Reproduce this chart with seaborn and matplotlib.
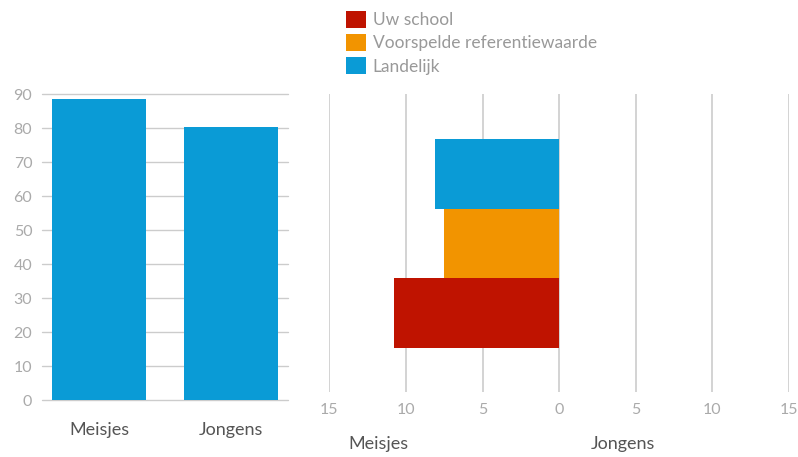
import matplotlib
matplotlib.use("Agg")
import matplotlib.pyplot as plt
import seaborn as sns
import pandas as pd
from matplotlib.patches import Patch

sns.set_theme(style="white")
plt.rcParams["font.family"] = ["Lato", "DejaVu Sans"]

# data
geslacht = ["Meisjes", "Jongens"]
percentage = [88.4, 80.2]

reeksen = ["Uw school", "Voorspelde referentiewaarde", "Landelijk"]
verschil_meisjes = [10.8, 7.5, 8.1]
kleuren = ["#bf1300", "#f29400", "#0a9bd6"]

blauw = "#0a9bd6"
grid_c = "#cccccc"
tick_c = "#aaaaaa"
label_c = "#555555"

W, H = 798, 457
fig = plt.figure(figsize=(W / 100, H / 100), dpi=100)

# --- links: staafdiagram ---
ax1 = fig.add_axes([42 / W, 1 - 400 / H, 246 / W, 306 / H])
df1 = pd.DataFrame({"g": geslacht, "p": percentage})
sns.barplot(data=df1, x="g", y="p", color=blauw, width=0.712, saturation=1,
            linewidth=0, ax=ax1, zorder=3)
ax1.set_xlim(-0.432, 1.432)
ax1.set_ylim(0, 90)
ax1.set_yticks(range(0, 91, 10))
ax1.yaxis.grid(True, color=grid_c, linewidth=1)
for gl in ax1.get_ygridlines():
    gl.set_clip_on(False)
ax1.set_xlabel("")
ax1.set_ylabel("")
for s in ax1.spines.values():
    s.set_visible(False)
ax1.tick_params(axis="y", length=0, pad=7, labelsize=11.5, labelcolor=tick_c)
ax1.tick_params(axis="x", length=0, pad=16, labelsize=13, labelcolor=label_c)

# --- rechts: verschil ---
ax2 = fig.add_axes([329.3 / W, 1 - 392 / H, 459.7 / W, 298 / H])
df2 = pd.DataFrame({"r": reeksen, "v": [-v for v in verschil_meisjes]})
sns.barplot(data=df2, y="r", x="v", hue="r", palette=kleuren, width=1.0,
            saturation=1, linewidth=0, legend=False, orient="h", ax=ax2, zorder=3)
ax2.set_xlim(-15, 15)
ax2.set_ylim(-1.137, 3.151)
ax2.set_xticks(range(-15, 16, 5))
ax2.set_xticklabels([str(abs(t)) for t in range(-15, 16, 5)])
ax2.set_yticks([])
ax2.xaxis.grid(True, color=grid_c, linewidth=1.2)
ax2.set_xlabel("")
ax2.set_ylabel("")
for s in ax2.spines.values():
    s.set_visible(False)
ax2.tick_params(axis="x", length=0, pad=8, labelsize=11.5, labelcolor=tick_c)

fig.text(378 / W, 1 - 444 / H, "Meisjes", ha="center", va="center",
         fontsize=13, color=label_c)
fig.text(623 / W, 1 - 444 / H, "Jongens", ha="center", va="center",
         fontsize=13, color=label_c)

# legenda
handles = [Patch(facecolor=c, edgecolor="none") for c in kleuren]
fig.legend(handles, reeksen, loc="upper left", bbox_to_anchor=(339 / W, 1 - 4 / H),
           frameon=False, fontsize=12.5, labelcolor="#999999",
           handlelength=1.15, handleheight=1.15, handletextpad=0.4,
           labelspacing=0.32, borderaxespad=0)

fig.savefig("out.png", dpi=100)
